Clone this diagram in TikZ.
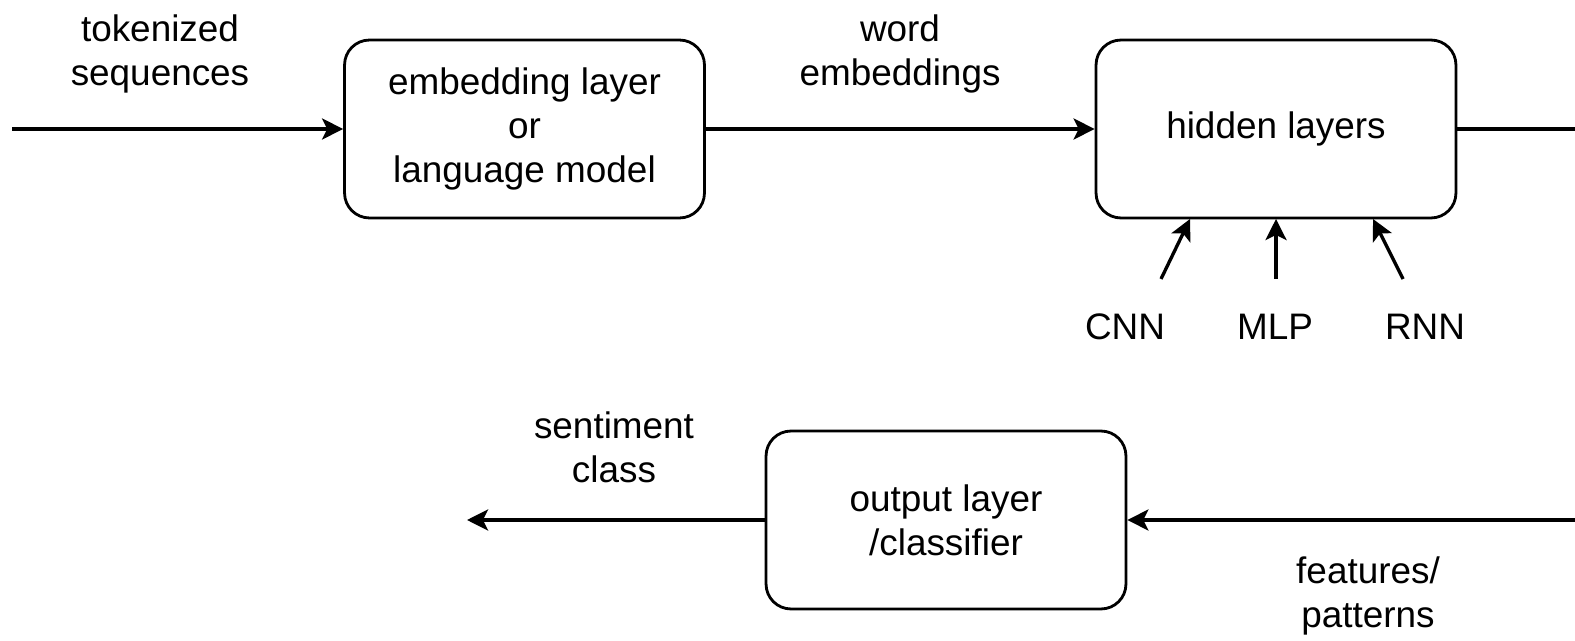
\documentclass[tikz,border=0pt]{standalone}
\usepackage{fontspec}
\setmainfont{Liberation Sans}
\usetikzlibrary{arrows.meta,positioning}

\begin{document}
\begin{tikzpicture}[x=0.02cm, y=-0.02cm]
        \tikzset{
            blk/.style={draw, line width=1.6pt, rounded corners=0.5cm,
                minimum width=7.2cm, minimum height=3.56cm, align=center,
                font=\fontsize{21}{25}\selectfont},
            lbl/.style={align=center, font=\fontsize{21}{25}\selectfont},
            con/.style={line width=1.9pt, -{Stealth[length=0.42cm, width=0.42cm, inset=0.1cm]}}
        }
        \useasboundingbox (0, 0) rectangle (1575, 641);
        \begin{scope}
            \node[blk] (E) at (524.5, 129)
            {embedding layer\\or\\language model};
            \node[blk] (H) at (1276, 129)
            {hidden layers};
            \node[blk] (O) at (946, 520)
            {output layer\\/classifier};
            \node[lbl] (T1) at (160, 54)
            {tokenized\\sequences};
            \node[lbl] (T2) at (900, 54)
            {word\\embeddings};
            \node[lbl] (T3) at (614, 447)
            {sentiment\\class};
            \node[lbl] (T4) at (1368, 596)
            {features/\\patterns};
            \node[lbl] (C) at (1125, 327) {CNN};
            \node[lbl] (M) at (1275, 327) {MLP};
            \node[lbl] (R) at (1425, 327) {RNN};
            \coordinate (in) at (12, 129);
            \coordinate (r1) at (1575, 129);
            \coordinate (r2) at (1575, 520);
            \coordinate (out) at (467, 520);
            \coordinate (c0) at (1161, 279);
            \coordinate (c1) at (1190, 219);
            \coordinate (m0) at (1276, 279);
            \coordinate (m1) at (1276, 219);
            \coordinate (n0) at (1403, 279);
            \coordinate (n1) at (1373, 219);
        \end{scope}

        \begin{scope}
            \draw[con] (in) -- (E);
            \draw[con] (E) -- (H);
            \draw[line width=1.9pt] (H) -- (r1);
            \draw[con] (r2) -- (O);
            \draw[con] (O) -- (out);
            \draw[con] (c0) -- (c1);
            \draw[con] (m0) -- (m1);
            \draw[con] (n0) -- (n1);
        \end{scope}

\end{tikzpicture}
\end{document}
